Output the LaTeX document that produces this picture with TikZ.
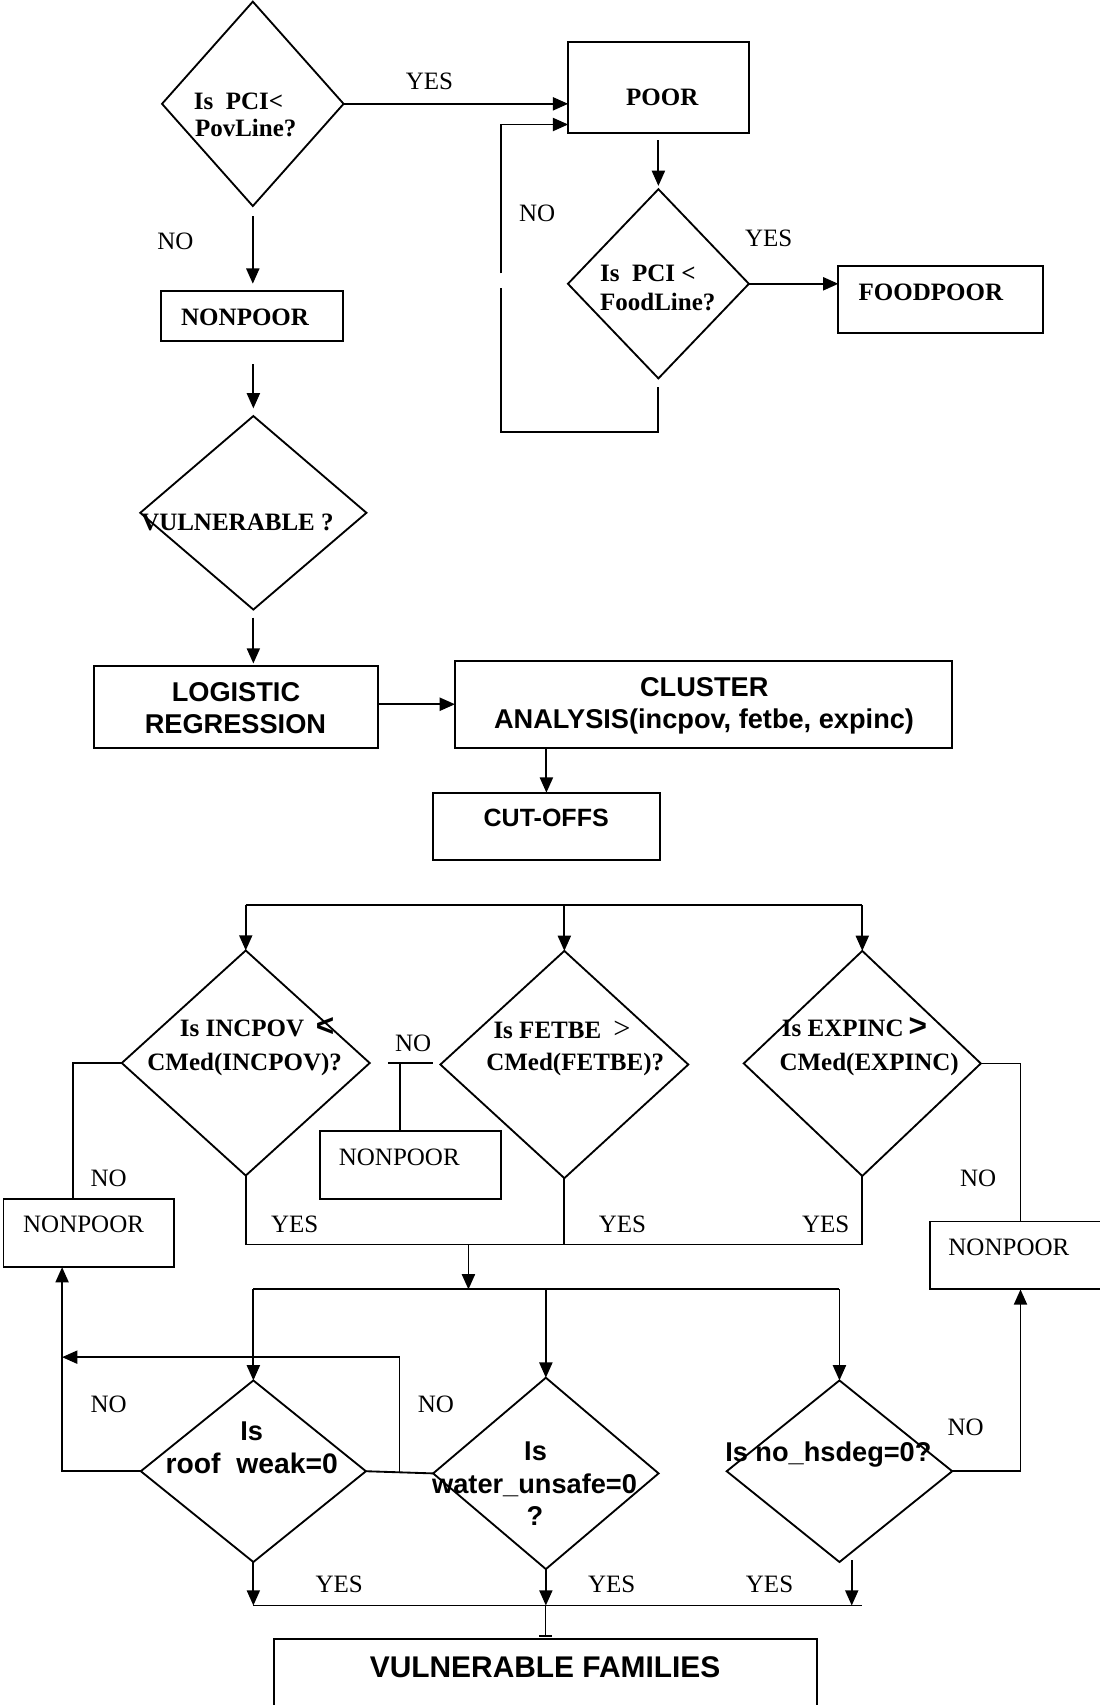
\documentclass[tikz,border=0pt]{standalone}
\usepackage{fontspec}
\setmainfont{Liberation Serif}
\setsansfont{Liberation Sans}
\usetikzlibrary{shapes.geometric,arrows.meta,calc}
\tikzset{
  box/.style={draw, rectangle, inner sep=0pt, outer sep=0pt},
  dia/.style={draw, diamond, inner sep=0pt, outer sep=0pt},
  arr/.style={-{Triangle[length=14pt,width=12pt]}},
  sb/.style={font=\bfseries\fontsize{23}{27}\selectfont, inner sep=0pt},
  sr/.style={font=\fontsize{23}{27}\selectfont, inner sep=0pt},
  ab/.style={font=\sffamily\bfseries\fontsize{25}{29}\selectfont, inner sep=0pt},
}
\begin{document}
\begin{tikzpicture}[x=1pt, y=-1pt, line width=1.7pt]
\useasboundingbox[fill=white] (0,0) rectangle (1011,1568);

% ---------- shapes ----------
\node[dia, minimum width=167pt, minimum height=188pt] (D1) at (232.5,95.5) {};
\node[box, minimum width=166.4pt, minimum height=83pt] (POOR) at (605.7,80.5) {};
\node[dia, minimum width=166.4pt, minimum height=174pt] (D2) at (605.5,261) {};
\node[box, minimum width=188pt, minimum height=62.2pt] (FOOD) at (865,275.5) {};
\node[box, minimum width=167.2pt, minimum height=46pt] (NONT) at (232,290.4) {};
\node[dia, minimum width=208pt, minimum height=178pt] (D3) at (233,471.6) {};
\node[box, minimum width=261.4pt, minimum height=74.8pt] (LOG) at (216.8,650.1) {};
\node[box, minimum width=457.3pt, minimum height=79.7pt] (CLU) at (647.05,647.65) {};
\node[box, minimum width=209.2pt, minimum height=62.2pt] (CUT) at (502.5,760.1) {};

\node[dia, minimum width=228pt, minimum height=207pt] (D4) at (226,977.6) {};
\node[dia, minimum width=228pt, minimum height=209pt] (D5) at (519,979) {};
\node[dia, minimum width=218pt, minimum height=207pt] (D6) at (793,978) {};
\node[box, minimum width=157.2pt, minimum height=62.9pt] (NONL) at (81.8,1133.85) {};
\node[box, minimum width=166.2pt, minimum height=62.2pt] (NONM) at (377.4,1071.3) {};
\node[box, minimum width=159.7pt, minimum height=62.5pt] (NONR) at (935.15,1154.55) {};

\node[dia, minimum width=207pt, minimum height=167pt] (D7) at (233,1353) {};
\node[dia, minimum width=207.3pt, minimum height=176pt] (D8) at (502,1355) {};
\node[dia, minimum width=207.4pt, minimum height=167pt] (D9) at (772,1353) {};
\node[box, minimum width=498.7pt, minimum height=67.8pt] (VULN) at (501.65,1541.1) {};

% ---------- texts ----------
\node[sb, anchor=base west] (tD1a) at (177.5,101.1) {Is\ \ PCI<};
\node[sb, anchor=base west] (tD1b) at (178.5,125.6) {PovLine?};
\node[sb, anchor=base] (tPOOR) at (609,97.1) {POOR};
\node[sb, anchor=base west] (tD2a) at (551,259.1) {Is\ \ PCI <};
\node[sb, anchor=base west] (tD2b) at (551,285.1) {FoodLine?};
\node[sb, anchor=base] (tFOOD) at (856,275.9) {FOODPOOR};
\node[sb, anchor=base] (tNONT) at (225.4,298.9) {NONPOOR};
\node[sb, anchor=base west] (tD3) at (129,487.6) {VULNERABLE ?};
\node[ab, anchor=base] (tLOGa) at (217,645.3) {LOGISTIC};
\node[ab, anchor=base] (tLOGb) at (216.5,674.4) {REGRESSION};
\node[ab, anchor=base] (tCLUa) at (647.7,640.7) {CLUSTER};
\node[ab, anchor=base] (tCLUb) at (647.5,669.8) {ANALYSIS(incpov, fetbe, expinc)};
\node[ab, font=\sffamily\bfseries\fontsize{23}{27}\selectfont, anchor=base] (tCUT) at (502.3,760.2) {CUT-OFFS};

\node[sb, anchor=base west] (tD4a) at (164.6,953.6) {Is INCPOV};
\node[inner sep=0pt, font=\sffamily\bfseries\fontsize{29}{30}\selectfont, anchor=base] (tD4lt) at (299,953) {<};
\node[sb, anchor=base] (tD4b) at (225,984.3) {CMed(INCPOV)?};
\node[sb, anchor=base west] (tD5a) at (453,955.2) {Is FETBE};
\node[inner sep=0pt, font=\fontsize{28}{30}\selectfont, anchor=base] (tD5gt) at (572,955.2) {>};
\node[sb, anchor=base] (tD5b) at (529,984.3) {CMed(FETBE)?};
\node[sb, anchor=base west] (tD6a) at (718.3,953.6) {Is EXPINC};
\node[inner sep=0pt, font=\sffamily\bfseries\fontsize{29}{30}\selectfont, anchor=base] (tD6gt) at (844,953) {>};
\node[sb, anchor=base] (tD6b) at (799.3,984.3) {CMed(EXPINC)};

\node[sr, anchor=base] (tNONL) at (76.9,1133) {NONPOOR};
\node[sr, anchor=base] (tNONM) at (367.2,1071.7) {NONPOOR};
\node[sr, anchor=base] (tNONR) at (927.8,1154.5) {NONPOOR};

\node[ab, anchor=base] (tD7a) at (231.4,1324.6) {Is};
\node[ab, font=\sffamily\bfseries\fontsize{26}{30}\selectfont, anchor=base] (tD7b) at (231.5,1355.2) {roof\ \ weak=0};
\node[ab, anchor=base] (tD8a) at (492.5,1343) {Is};
\node[ab, anchor=base] (tD8b) at (491.6,1373.6) {water\_unsafe=0};
\node[ab, anchor=base] (tD8c) at (492,1402.8) {?};
\node[ab, anchor=base] (tD9) at (761.8,1344.5) {Is no\_hsdeg=0?};
\node[ab, font=\sffamily\bfseries\fontsize{27.5}{31}\selectfont, anchor=base] (tVULN) at (501.3,1543) {VULNERABLE FAMILIES};

% labels
\node[sr, anchor=base] (lY1) at (395,82.6) {YES};
\node[sr, anchor=base] (lN1) at (161.3,229) {NO};
\node[sr, anchor=base] (lN2) at (494,203.9) {NO};
\node[sr, anchor=base] (lY2) at (707,226.8) {YES};
\node[sr, anchor=base] (lN3) at (100,1091) {NO};
\node[sr, anchor=base] (lN4) at (380,966.6) {NO};
\node[sr, anchor=base] (lY3) at (271,1133) {YES};
\node[sr, anchor=base] (lY4) at (572.4,1133) {YES};
\node[sr, anchor=base] (lY5) at (759.3,1133) {YES};
\node[sr, anchor=base] (lN5) at (899.5,1091.3) {NO};
\node[sr, anchor=base] (lN6) at (100,1299.2) {NO};
\node[sr, anchor=base] (lN7) at (400.8,1299.2) {NO};
\node[sr, anchor=base] (lN8) at (888,1320.1) {NO};
\node[sr, anchor=base] (lY6) at (312,1464.2) {YES};
\node[sr, anchor=base] (lY7) at (562.6,1464.2) {YES};
\node[sr, anchor=base] (lY8) at (707.7,1464.2) {YES};

% ---------- connectors: top part ----------
\draw[arr] (D1.east) -- (D1.east -| POOR.west);
\coordinate (L1) at ($(D2.south)+(0,8)$);
\coordinate (L2) at (460.5,397);
\coordinate (L3) at (460.5,265.3);
\coordinate (L4) at (460.5,251.4);
\coordinate (L5) at (460.5,114.5);
\draw (L1) |- (L2) -- (L3);
\draw[arr] (L4) -- (L5) -- (L5 -| POOR.west);
\draw[arr] ($(POOR.south -| D2.north)+(0,7)$) -- ($(D2.north)+(0,-3)$);
\draw[arr] (D2.east) -- (D2.east -| FOOD.west);
\draw[arr] ($(D1.south)+(0,9.5)$) -- ($(D1.south |- NONT.north)+(0,-6.5)$);
\draw[arr] ($(NONT.south -| D3.north)+(0,21.5)$) -- ($(D3.north)+(0,-7)$);
\draw[arr] ($(D3.south)+(0,7.5)$) -- ($(D3.south |- LOG.north)+(0,-2.5)$);
\draw[arr] (CLU.west -| LOG.east) -- (CLU.west);
\draw[arr] (CLU.south -| CUT.north) -- (CUT.north);

% ---------- middle part ----------
\coordinate (TL) at (0,832.6);
\draw (TL -| D4.north) -- (TL -| D6.north);
\foreach \d in {D4,D5,D6} \draw[arr] (TL -| \d.north) -- (\d.north);
\coordinate (K1) at (66.8,1102.4);
\draw (D4.west) -| (K1);
\coordinate (M1) at (356.6,977.6);
\coordinate (M2) at (398.5,977.6);
\coordinate (M3) at (368,977.6);
\draw (M1) -- (M2);
\draw (M3) -- (M3 |- NONM.north);
\coordinate (YL) at (0,1144.5);
\draw (D4.south) -- (D4.south |- YL) -- (D6.south |- YL) -- (D6.south);
\draw (D5.south) -- (D5.south |- YL);
\coordinate (R1) at (938.5,1123.3);
\draw (D6.east) -| (R1);
\coordinate (DL2) at (0,1185.8);
\coordinate (C2) at (430.8,1144.5);
\draw[arr] (C2) -- (C2 |- DL2);

% ---------- bottom part ----------
\draw (DL2 -| D7.north) -- (DL2 -| D9.north);
\foreach \d in {D7,D8,D9} \draw[arr] (DL2 -| \d.north) -- (\d.north);
\coordinate (K2) at (57.1,1165.3);
\draw[arr] (D7.west) -| (K2);
\draw (D7.east) -- (D8.west);
\coordinate (B1) at ($(D7.east)!0.5!(D8.west)$);
\coordinate (K3) at (57.1,1248.1);
\draw[arr] (B1) |- (K3);
\coordinate (R2) at (938.5,1185.8);
\draw[arr] (D9.east) -| (R2);
\coordinate (BL) at (0,1476.5);
\coordinate (BLE) at (793.1,1476.5);
\draw (BL -| D7.south) -- (BLE);
\draw[arr] (D7.south) -- (D7.south |- BL);
\draw[arr] (D8.south) -- (D8.south |- BL);
\coordinate (Y9) at (783.3,1435);
\draw[arr] (Y9) -- (Y9 |- BL);
\draw[-{Bar[width=12pt,line width=2.5pt]}] (BL -| VULN.north) -- ($(VULN.north)+(0,-1.5)$);
\end{tikzpicture}
\end{document}
